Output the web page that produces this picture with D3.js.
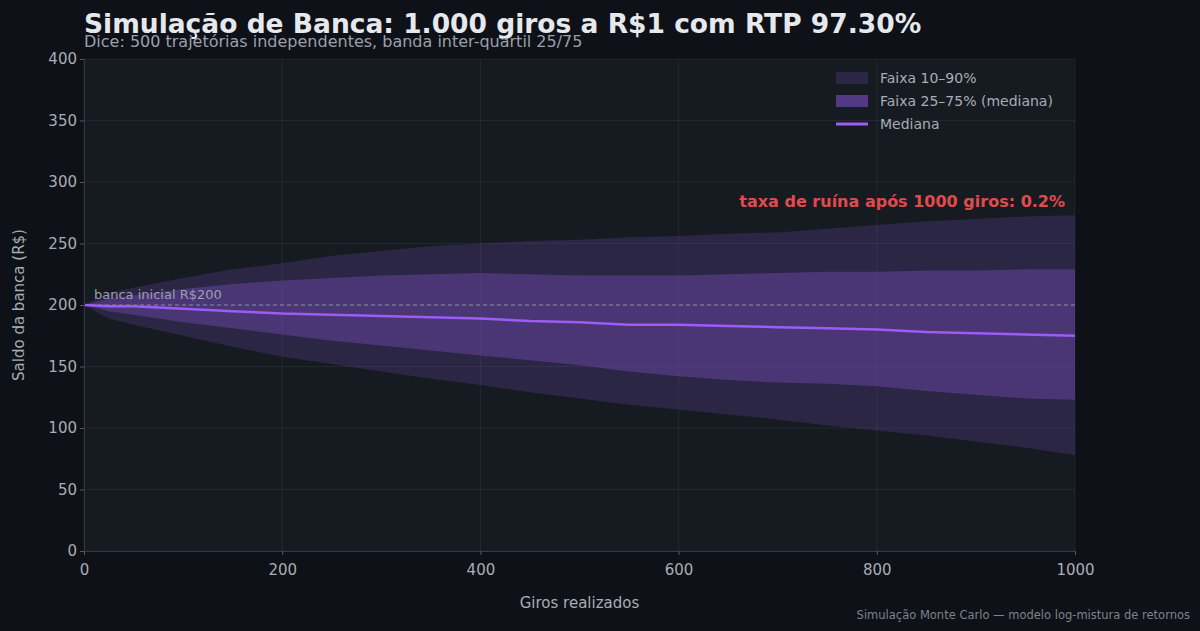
<!DOCTYPE html>
<html><head><meta charset="utf-8">
<script src="https://cdn.jsdelivr.net/npm/d3@7"></script>
<style>
body{margin:0;background:#0e1117;font-family:"DejaVu Sans",sans-serif;}
</style></head><body>
<svg id="chart" width="1200" height="631"></svg>
<script>
var GIROS = [0, 25, 50, 100, 150, 200, 250, 300, 350, 400, 450, 500, 550, 600, 650, 700, 750, 800, 850, 900, 950, 1000];
var P90 =   [200, 210, 214, 222, 229, 234, 240, 244, 248, 250, 252, 253, 255, 256, 258, 259, 262, 265, 268, 270, 272, 273];
var P75 =   [200, 205, 208, 213, 217, 220, 222, 224, 225, 226, 225, 224, 224, 224, 225, 226, 227, 227, 228, 228, 229, 229];
var MED =   [200, 199, 199, 197, 195, 193, 192, 191, 190, 189, 187, 186, 184, 184, 183, 182, 181, 180, 178, 177, 176, 175];
var P25 =   [200, 195, 192, 186, 181, 176, 171, 167, 163, 159, 155, 151, 146, 142, 139, 137, 136, 134, 130, 127, 124, 123];
var P10 =   [200, 189, 184, 175, 166, 158, 152, 146, 140, 135, 129, 124, 119, 115, 111, 107, 102, 98, 94, 89, 84, 78];
var X_TICKS = [0, 200, 400, 600, 800, 1000];
var Y_TICKS = [0, 50, 100, 150, 200, 250, 300, 350, 400];

var svg = d3.select("#chart");
var L = 84, R = 1075, T = 59, B = 551;
var x = d3.scaleLinear().domain([0, 1000]).range([L, R]);
var y = d3.scaleLinear().domain([0, 400]).range([B, T]);

svg.append("rect").attr("width", 1200).attr("height", 631).attr("fill", "#0e1117");
svg.append("rect").attr("x", L).attr("y", T).attr("width", R - L).attr("height", B - T).attr("fill", "#161b22");

// grid
svg.selectAll(".gx").data(X_TICKS).enter().append("line")
    .attr("x1", d => x(d)).attr("x2", d => x(d)).attr("y1", T).attr("y2", B)
    .attr("stroke", "#ffffff").attr("stroke-opacity", 0.06);
svg.selectAll(".gy").data(Y_TICKS).enter().append("line")
    .attr("y1", d => y(d)).attr("y2", d => y(d)).attr("x1", L).attr("x2", R)
    .attr("stroke", "#ffffff").attr("stroke-opacity", 0.06);

var idx = d3.range(GIROS.length);
var band = (lo, hi) => d3.area().x(i => x(GIROS[i])).y0(i => y(lo[i])).y1(i => y(hi[i]));
svg.append("path").attr("d", band(P10, P90)(idx)).attr("fill", "#7b4fc4").attr("fill-opacity", 0.22);
svg.append("path").attr("d", band(P25, P75)(idx)).attr("fill", "#7b4fc4").attr("fill-opacity", 0.38);

// initial bankroll line
svg.append("line").attr("x1", L).attr("x2", R).attr("y1", y(200)).attr("y2", y(200))
    .attr("stroke", "#8b8f99").attr("stroke-dasharray", "4,3").attr("stroke-width", 1);
svg.append("text").attr("x", 94).attr("y", y(200) - 6).attr("fill", "#9aa0aa").attr("font-size", 13)
    .text("banca inicial R$200");

svg.append("path").attr("d", d3.line().x(i => x(GIROS[i])).y(i => y(MED[i]))(idx))
    .attr("fill", "none").attr("stroke", "#9d5cf5").attr("stroke-width", 2.5);

// axes
var xa = svg.append("g").attr("transform", "translate(0," + B + ")")
    .call(d3.axisBottom(x).tickValues(X_TICKS).tickFormat(d3.format("d")).tickSize(4));
var ya = svg.append("g").attr("transform", "translate(" + L + ",0)")
    .call(d3.axisLeft(y).tickValues(Y_TICKS).tickSize(4));
[xa, ya].forEach(function (a) {
    a.select(".domain").attr("stroke", "#333842");
    a.selectAll("line").attr("stroke", "#555a63");
    a.selectAll("text").attr("fill", "#a8adb5").attr("font-size", 15).attr("font-family", "DejaVu Sans");
});
xa.selectAll("text").attr("dy", "1.1em");

svg.append("text").attr("x", (L + R) / 2).attr("y", 608).attr("text-anchor", "middle")
    .attr("fill", "#a8adb5").attr("font-size", 15).text("Giros realizados");
svg.append("text").attr("transform", "translate(24," + ((T + B) / 2) + ") rotate(-90)")
    .attr("text-anchor", "middle").attr("fill", "#a8adb5").attr("font-size", 15).text("Saldo da banca (R$)");

svg.append("text").attr("x", 84).attr("y", 33).attr("fill", "#e6e8eb").attr("font-size", 26.5)
    .attr("font-weight", "bold").text("Simulação de Banca: 1.000 giros a R$1 com RTP 97.30%");
svg.append("text").attr("x", 84).attr("y", 47).attr("fill", "#9aa0aa").attr("font-size", 16)
    .text("Dice: 500 trajetórias independentes, banda inter-quartil 25/75");

svg.append("text").attr("x", 1065).attr("y", 207).attr("text-anchor", "end").attr("fill", "#e04b4b")
    .attr("font-size", 16).attr("font-weight", "bold").text("taxa de ruína após 1000 giros: 0.2%");

svg.append("text").attr("x", 1190).attr("y", 619).attr("text-anchor", "end").attr("fill", "#7d828b")
    .attr("font-size", 11.5).text("Simulação Monte Carlo — modelo log-mistura de retornos");

// legend
var leg = [
    {label: "Faixa 10–90%", type: "rect", op: 0.22},
    {label: "Faixa 25–75% (mediana)", type: "rect", op: 0.6},
    {label: "Mediana", type: "line"}
];
var lg = svg.selectAll(".leg").data(leg).enter().append("g")
    .attr("transform", (d, i) => "translate(836," + (78 + i * 23) + ")");
lg.filter(d => d.type === "rect").append("rect").attr("x", 0).attr("y", -6).attr("width", 32).attr("height", 12)
    .attr("fill", "#7b4fc4").attr("fill-opacity", d => d.op);
lg.filter(d => d.type === "line").append("line").attr("x1", 0).attr("x2", 32)
    .attr("stroke", "#9d5cf5").attr("stroke-width", 3);
lg.append("text").attr("x", 44).attr("y", 5).attr("fill", "#a8adb5").attr("font-size", 14).text(d => d.label);
</script>
</body></html>
